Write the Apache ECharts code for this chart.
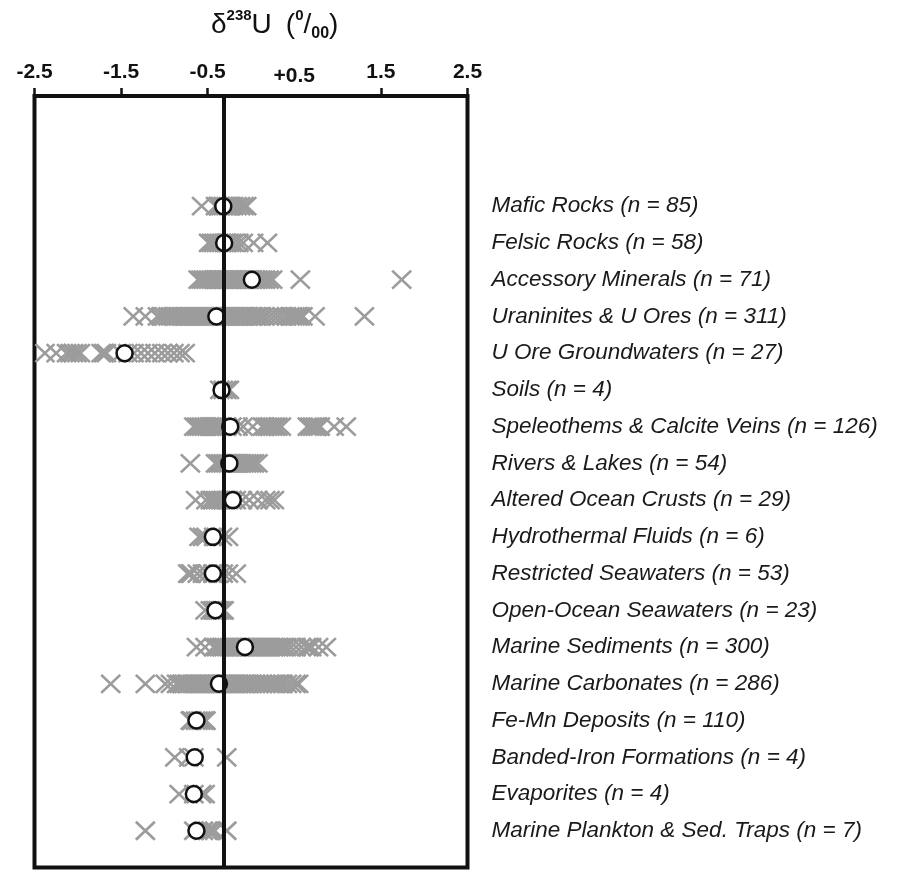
<!DOCTYPE html>
<html>
<head>
<meta charset="utf-8">
<script src="https://cdn.jsdelivr.net/npm/echarts@6/dist/echarts.min.js"></script>
<style>
  html, body { margin: 0; padding: 0; background: #fff; }
  #chart { width: 898px; height: 872px; }
</style>
</head>
<body>
<div id="chart"></div>
<script>
// ---- Data ----
const categories = [
  'Mafic Rocks', 'Felsic Rocks', 'Accessory Minerals', 'Uraninites & U Ores',
  'U Ore Groundwaters', 'Soils', 'Speleothems & Calcite Veins', 'Rivers & Lakes',
  'Altered Ocean Crusts', 'Hydrothermal Fluids', 'Restricted Seawaters',
  'Open-Ocean Seawaters', 'Marine Sediments', 'Marine Carbonates',
  'Fe-Mn Deposits', 'Banded-Iron Formations', 'Evaporites',
  'Marine Plankton & Sed. Traps'
];
const counts = [85, 58, 71, 311, 27, 4, 126, 54, 29, 6, 53, 23, 300, 286, 110, 4, 4, 7];
const means = [-0.32, -0.31, 0.01, -0.40, -1.46, -0.34, -0.24, -0.25, -0.21, -0.44,
               -0.44, -0.41, -0.07, -0.37, -0.63, -0.65, -0.66, -0.63];
const bulkEarth = -0.32;
const tickLabels = ['-2.5', '-1.5', '-0.5', '+0.5', '1.5', '2.5'];

const mafic = [-0.57, -0.41, -0.38, -0.35, -0.32, -0.29, -0.26, -0.23, -0.20, -0.16, -0.12, -0.08, -0.05];
const felsic = [-0.49, -0.46, -0.43, -0.40, -0.37, -0.34, -0.31, -0.28, -0.25, -0.22, -0.19, -0.14, -0.09, 0.03, 0.19];
const accessory = [-0.61, -0.58, -0.55, -0.52, -0.49, -0.46, -0.43, -0.40, -0.37, -0.34, -0.31, -0.28, -0.25,
  -0.22, -0.19, -0.16, -0.13, -0.10, -0.07, -0.04, -0.01, 0.02, 0.05, 0.08, 0.11, 0.14, 0.17, 0.21, 0.25, 0.57, 1.74];
const uraninites = [-1.36, -1.22, -1.08, -1.04, -1.00, -0.96, -0.93, -0.90, -0.87, -0.84, -0.81, -0.78, -0.75,
  -0.72, -0.69, -0.66, -0.63, -0.60, -0.57, -0.54, -0.51, -0.48, -0.45, -0.42, -0.39, -0.36, -0.33, -0.30,
  -0.27, -0.24, -0.21, -0.18, -0.15, -0.12, -0.09, -0.06, -0.03, 0.00, 0.03, 0.06, 0.09, 0.12, 0.16, 0.21,
  0.26, 0.31, 0.36, 0.41, 0.45, 0.48, 0.51, 0.54, 0.57, 0.60, 0.74, 1.31];
const oreGroundwaters = [-2.38, -2.25, -2.13, -2.09, -2.05, -2.01, -1.97, -1.73, -1.70, -1.67, -1.50, -1.42,
  -1.35, -1.27, -1.19, -1.11, -1.03, -0.96, -0.89, -0.82, -0.76];
const soils = [-0.36, -0.32, -0.28, -0.25];
const speleothems = [-0.66, -0.63, -0.60, -0.57, -0.54, -0.51, -0.48, -0.45, -0.42, -0.39, -0.36, -0.33,
  -0.28, -0.22, -0.15, -0.09, 0.02, 0.13, 0.16, 0.19, 0.22, 0.25, 0.28, 0.31, 0.35,
  0.65, 0.68, 0.71, 0.74, 0.77, 0.80, 0.96, 1.10];
const rivers = [-0.70, -0.41, -0.38, -0.35, -0.32, -0.29, -0.26, -0.23, -0.20, -0.17, -0.14, -0.11, -0.08,
  -0.05, -0.02, 0.01, 0.04, 0.08];
const alteredCrusts = [-0.64, -0.52, -0.47, -0.44, -0.41, -0.38, -0.35, -0.32, -0.29, -0.26, -0.22, -0.17,
  -0.10, -0.02, 0.08, 0.17, 0.22, 0.27];
const hydrothermal = [-0.60, -0.56, -0.52, -0.43, -0.33, -0.26];
const restricted = [-0.73, -0.71, -0.69, -0.62, -0.56, -0.50, -0.44, -0.38, -0.32, -0.26, -0.17];
const openOcean = [-0.53, -0.47, -0.44, -0.42, -0.40, -0.38, -0.36, -0.33, -0.31];
const marineSediments = [-0.63, -0.53, -0.43, -0.40, -0.37, -0.34, -0.31, -0.28, -0.25, -0.22, -0.19, -0.16,
  -0.13, -0.10, -0.07, -0.04, -0.01, 0.02, 0.05, 0.08, 0.11, 0.14, 0.17, 0.20, 0.23, 0.26, 0.29, 0.32, 0.35,
  0.38, 0.41, 0.46, 0.52, 0.58, 0.64, 0.67, 0.70, 0.78, 0.87];
const marineCarbonates = [-1.62, -1.22, -0.99, -0.93, -0.86, -0.83, -0.80, -0.77, -0.74, -0.71, -0.68, -0.65,
  -0.62, -0.59, -0.56, -0.53, -0.50, -0.47, -0.44, -0.41, -0.38, -0.35, -0.32, -0.29, -0.26, -0.23, -0.20,
  -0.17, -0.14, -0.11, -0.08, -0.05, -0.02, 0.01, 0.05, 0.09, 0.13, 0.17, 0.21, 0.25, 0.29, 0.33, 0.37,
  0.42, 0.47, 0.52, 0.55];
const feMnDeposits = [-0.70, -0.69, -0.68, -0.64, -0.61, -0.58, -0.55, -0.53, -0.52];
const bandedIron = [-0.88, -0.72, -0.66, -0.28];
const evaporites = [-0.83, -0.66, -0.57, -0.53];
const plankton = [-1.22, -0.66, -0.55, -0.50, -0.46, -0.42, -0.28];

const samples = [mafic, felsic, accessory, uraninites, oreGroundwaters, soils, speleothems, rivers,
  alteredCrusts, hydrothermal, restricted, openOcean, marineSediments, marineCarbonates, feMnDeposits,
  bandedIron, evaporites, plankton];

// ---- Build series data ----
const samplePoints = [];
samples.forEach((arr, row) => arr.forEach(v => samplePoints.push([v, row])));
const meanPoints = means.map((v, row) => [v, row]);
const rowLabels = categories.map((c, i) => c + ' (n = ' + counts[i] + ')');

const FONT = '"Liberation Sans", Arial, Helvetica, sans-serif';
const chart = echarts.init(document.getElementById('chart'), null, { renderer: 'canvas' });

chart.setOption({
  animation: false,
  backgroundColor: '#ffffff',
  title: {
    left: 211,
    top: 8,
    padding: 0,
    text: '{m|δ}{s|238}{m|U}{g| }{m|(}{s|0}{m|/}{b|00}{m|)}',
    textStyle: {
      rich: {
        m: { fontFamily: FONT, fontSize: 28, lineHeight: 34, color: '#111', fontWeight: 'normal' },
        s: { fontFamily: FONT, fontSize: 15, lineHeight: 17, verticalAlign: 'top', color: '#111' },
        b: { fontFamily: FONT, fontSize: 16, lineHeight: 13, verticalAlign: 'bottom', color: '#111' },
        g: { fontFamily: FONT, fontSize: 14, width: 14 }
      }
    }
  },
  grid: {
    left: 34.5,
    right: 430.5,
    top: 96,
    bottom: 4.5,
    show: true,
    borderColor: '#111',
    borderWidth: 4,
    backgroundColor: 'transparent'
  },
  xAxis: {
    type: 'value',
    position: 'top',
    min: -2.5,
    max: 2.5,
    interval: 1,
    axisLine: { show: true, onZero: false, lineStyle: { color: '#111', width: 3.5 } },
    axisTick: { show: true, inside: false, length: 8, lineStyle: { color: '#111', width: 2.5 } },
    splitLine: { show: false },
    axisLabel: {
      margin: 2,
      formatter: (v, i) => (tickLabels[i] === '+0.5' ? '{p|' + tickLabels[i] + '}' : '{n|' + tickLabels[i] + '}'),
      rich: {
        n: { fontFamily: FONT, fontSize: 21, fontWeight: 'bold', color: '#111', padding: [0, 0, 11, 0] },
        p: { fontFamily: FONT, fontSize: 21, fontWeight: 'bold', color: '#111', padding: [0, 26, 7, 26],
             backgroundColor: '#ffffff' }
      }
    }
  },
  yAxis: {
    type: 'value',
    position: 'right',
    inverse: true,
    min: -3,
    max: 18,
    interval: 1,
    axisLine: { show: false, onZero: false },
    axisTick: { show: false },
    splitLine: { show: false },
    axisLabel: {
      margin: 24,
      align: 'left',
      fontFamily: FONT,
      fontStyle: 'italic',
      fontSize: 22.5,
      color: '#1a1a1a',
      formatter: v => (v >= 0 && v < rowLabels.length ? rowLabels[v] : '')
    }
  },
  series: [
    {
      type: 'scatter',
      name: 'samples',
      data: samplePoints,
      symbol: 'path://M0,0L20,20M20,0L0,20',
      symbolSize: [19, 18],
      itemStyle: { color: 'rgba(0,0,0,0)', borderColor: '#9c9c9c', borderWidth: 2.6, opacity: 1 },
      silent: true,
      z: 2
    },
    {
      type: 'scatter',
      name: 'means',
      data: meanPoints,
      symbol: 'circle',
      symbolSize: 16,
      itemStyle: { color: '#ffffff', borderColor: '#111', borderWidth: 2.5, opacity: 1 },
      silent: true,
      z: 3
    },
    {
      type: 'scatter',
      name: 'bulk',
      data: [],
      z: 4,
      markLine: {
        silent: true,
        symbol: 'none',
        label: { show: false },
        lineStyle: { color: '#111', width: 4, type: 'solid' },
        data: [{ xAxis: bulkEarth }]
      }
    }
  ]
});
</script>
</body>
</html>
